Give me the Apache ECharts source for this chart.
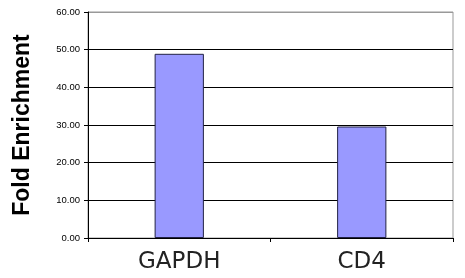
<!DOCTYPE html>
<html><head><meta charset="utf-8">
<script src="https://cdn.jsdelivr.net/npm/echarts@6/dist/echarts.min.js"></script>
<style>html,body{margin:0;padding:0;background:#fff}#c{width:465px;height:278px}</style>
</head><body><div id="c"></div>
<script>
const categories = ['GAPDH', 'CD4'];
const values = [48.9, 29.6];
const yTicks = [0, 10, 20, 30, 40, 50, 60];
const yTitle = 'Fold Enrichment';

const chart = echarts.init(document.getElementById('c'), null, {renderer: 'canvas'});
chart.setOption({
  animation: false,
  backgroundColor: '#fff',
  grid: {left: 88, right: 12, top: 12, bottom: 40, show: true, borderColor: '#999', borderWidth: 1,
    containLabel: false, outerBoundsMode: 'none'},
  xAxis: {
    type: 'category', data: categories,
    axisLine: {lineStyle: {color: '#000', width: 1}},
    axisTick: {show: true, alignWithLabel: false, length: 4, lineStyle: {color: '#000'}},
    axisLabel: {color: '#222', fontFamily: 'DejaVu Sans', fontSize: 23, margin: 13}
  },
  yAxis: {
    type: 'value', min: yTicks[0], max: yTicks[yTicks.length - 1], interval: 10,
    name: yTitle, nameLocation: 'middle', nameGap: 54,
    nameTextStyle: {fontFamily: 'Liberation Sans', fontWeight: 'bold', fontSize: 23, color: '#000'},
    axisLine: {show: true, lineStyle: {color: '#000', width: 1}},
    axisTick: {show: true, length: 4, lineStyle: {color: '#000'}},
    axisLabel: {color: '#000', fontFamily: 'Liberation Sans', fontSize: 9.5, margin: 8,
      formatter: v => v.toFixed(2)},
    splitLine: {show: true, lineStyle: {color: ['#000', '#000', '#000', '#000', '#000', '#000', '#999'], width: 1}}
  },
  series: [{
    type: 'bar', data: values, barWidth: '27%',
    itemStyle: {color: '#9999FF', borderColor: '#222244', borderWidth: 1}
  }]
});
</script></body></html>
